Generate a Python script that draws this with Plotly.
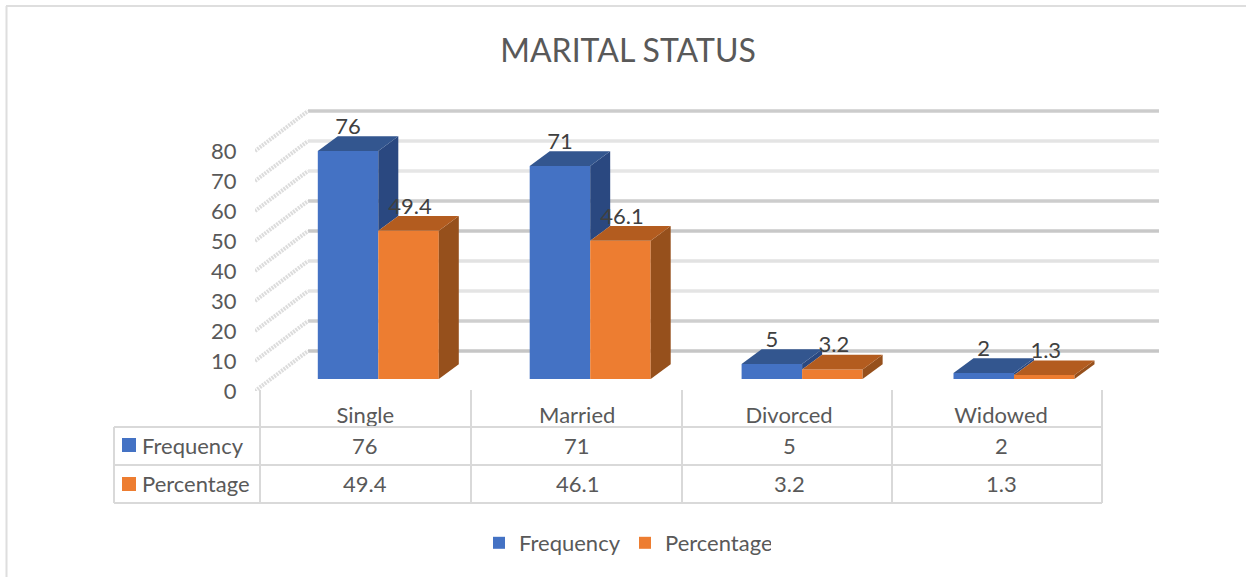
import plotly.graph_objects as go

categories = ["Single", "Married", "Divorced", "Widowed"]
frequency = [76, 71, 5, 2]
percentage = [49.4, 46.1, 3.2, 1.3]
y_ticks = [0, 10, 20, 30, 40, 50, 60, 70, 80]
grid_colors = ["#c6c6c6", "#cfcfcf", "#e4e4e4", "#e2e2e2", "#c8c8c8", "#cdcdcd", "#e6e6e6", "#e4e4e4", "#cccccc"]

W, H = 1246, 577
L, R, T, B = 255, 1159, 100, 391
PX_PER_CAT = 211.9
X0 = 378.3
PX_PER_UNIT = 3.0
FONT = "Lato"
TXT = "#595959"
BLUE, ORANGE = "#4472C4", "#ED7D31"
BLUE_TOP, BLUE_SIDE = "#33568F", "#2A4880"
ORANGE_TOP, ORANGE_SIDE = "#B35C1F", "#96501C"

BAR_W = 60.5 / PX_PER_CAT
BASE = 4.0                 # bars stand 12 px in front of the axis plane floor
DX, DY = 20 / PX_PER_CAT, 14.7 / PX_PER_UNIT      # bar depth
WALL_DX, WALL_DY = 53 / PX_PER_CAT, 40 / PX_PER_UNIT   # wall depth
LABEL_SHIFT = 13 / PX_PER_CAT


def px(x):
    return (x - L) / (R - L)


def py(y):
    return (B - y) / (B - T)


x_range = [(L - X0) / PX_PER_CAT, (R - X0) / PX_PER_CAT]
y_range = [0, (B - T) / PX_PER_UNIT]
xs = list(range(len(categories)))

fig = go.Figure()

fig.add_bar(x=[i - BAR_W / 2 for i in xs], y=frequency, base=BASE, width=BAR_W, name="Frequency",
            marker=dict(color=BLUE, line_width=0))
fig.add_bar(x=[i + BAR_W / 2 for i in xs], y=percentage, base=BASE, width=BAR_W, name="Percentage",
            marker=dict(color=ORANGE, line_width=0))


def face(points, color):
    fig.add_scatter(x=[p[0] for p in points] + [points[0][0]], y=[p[1] for p in points] + [points[0][1]],
                    mode="lines", fill="toself", fillcolor=color, line=dict(width=0, color=color),
                    hoverinfo="skip", showlegend=False)


for i, f, p in zip(xs, frequency, percentage):
    a, b, c = i - BAR_W, i, i + BAR_W
    tf, tp = BASE + f, BASE + p
    face([(b, tp), (b, tf), (b + DX, tf + DY), (b + DX, tp + DY)], BLUE_SIDE)
    face([(a, tf), (b, tf), (b + DX, tf + DY), (a + DX, tf + DY)], BLUE_TOP)
    face([(c, BASE), (c, tp), (c + DX, tp + DY), (c + DX, BASE + DY)], ORANGE_SIDE)
    face([(b, tp), (c, tp), (c + DX, tp + DY), (b + DX, tp + DY)], ORANGE_TOP)

fig.add_scatter(
    x=[i - BAR_W / 2 for i in xs] + [i + BAR_W / 2 + 1.5 / PX_PER_CAT for i in xs],
    y=[BASE + v + 7.5 for v in frequency] + [BASE + v + 7.5 for v in percentage],
    text=[str(v) for v in frequency] + [str(v) for v in percentage],
    mode="text", textposition="middle center", showlegend=False, hoverinfo="skip",
    cliponaxis=False, textfont=dict(family=FONT, size=22, color="#404040"))

shapes = []
for v, col in zip(y_ticks, grid_colors):
    shapes.append(dict(type="line", layer="below", xref="x", yref="y",
                       x0=x_range[0] + WALL_DX, x1=x_range[1], y0=v + WALL_DY, y1=v + WALL_DY,
                       line=dict(color=col, width=3.5)))
    shapes.append(dict(type="line", layer="below", xref="x", yref="y",
                       x0=x_range[0], x1=x_range[0] + WALL_DX, y0=v, y1=v + WALL_DY,
                       line=dict(color="#dcdcdc", width=4, dash="2px,1px")))


def line(x0, y0, x1, y1, color="#d9d9d9", width=2):
    shapes.append(dict(type="line", xref="paper", yref="paper", x0=px(x0), x1=px(x1), y0=py(y0), y1=py(y1),
                       line=dict(color=color, width=width)))


TL, TR, VT = 114, 1102, 390
ROWS = [427, 465, 503]
VERT = [260, 471, 682, 892, 1102]
for r in ROWS:
    line(TL, r, TR, r)
for v in VERT:
    line(v, VT, v, ROWS[-1])
line(TL, ROWS[0], TL, ROWS[-1])
# chart frame
line(6, 6, 1246, 6, "#dedede", 2)
line(6.5, 6, 6.5, 577, "#dedede", 2)


def sq(x0, y0, x1, y1, col):
    shapes.append(dict(type="rect", xref="paper", yref="paper", x0=px(x0), x1=px(x1), y0=py(y0), y1=py(y1),
                       fillcolor=col, line_width=0))


sq(122, 438, 136, 452, BLUE)
sq(122, 477, 136, 491, ORANGE)

annotations = []


def note(x, xref, y, text, anchor="center"):
    annotations.append(dict(x=x, xref=xref, y=py(y), yref="paper", text=text, showarrow=False, xanchor=anchor,
                            yanchor="middle", font=dict(family=FONT, size=22, color=TXT)))


note(px(140), "paper", 445, "Frequency", "left")
note(px(140), "paper", 483, "Percentage", "left")
for i, f, p in zip(xs, frequency, percentage):
    note(i - LABEL_SHIFT, "x", 445, str(f))
    note(i - LABEL_SHIFT, "x", 483, str(p))

fig.update_layout(
    width=W, height=H, autosize=False,
    margin=dict(l=L, r=W - R, t=T, b=H - B),
    paper_bgcolor="white", plot_bgcolor="rgba(0,0,0,0)",
    barmode="overlay",
    title=dict(text="MARITAL STATUS", x=628 / W, xanchor="center", y=1 - 51 / H, yanchor="middle",
               font=dict(family=FONT, size=32, color=TXT)),
    xaxis=dict(range=x_range, showgrid=False, zeroline=False, showline=False,
               tickmode="array", tickvals=[i - LABEL_SHIFT for i in xs], ticktext=categories,
               ticks="outside", ticklen=5, tickcolor="rgba(0,0,0,0)",
               tickfont=dict(family=FONT, size=22, color=TXT)),
    yaxis=dict(range=y_range, showgrid=False, zeroline=False, showline=False,
               tickmode="array", tickvals=y_ticks, ticks="outside", ticklen=13, tickcolor="rgba(0,0,0,0)",
               tickfont=dict(family=FONT, size=22, color=TXT)),
    legend=dict(orientation="h", x=px(479), y=py(543), xanchor="left", yanchor="middle",
                entrywidth=101, entrywidthmode="pixels",
                traceorder="normal", font=dict(family=FONT, size=22, color=TXT), bgcolor="rgba(0,0,0,0)"),
    shapes=shapes, annotations=annotations,
)

fig.write_html("out.html", config={"displayModeBar": False},
               post_script="document.body.style.margin='0';document.documentElement.style.overflow='hidden';")
